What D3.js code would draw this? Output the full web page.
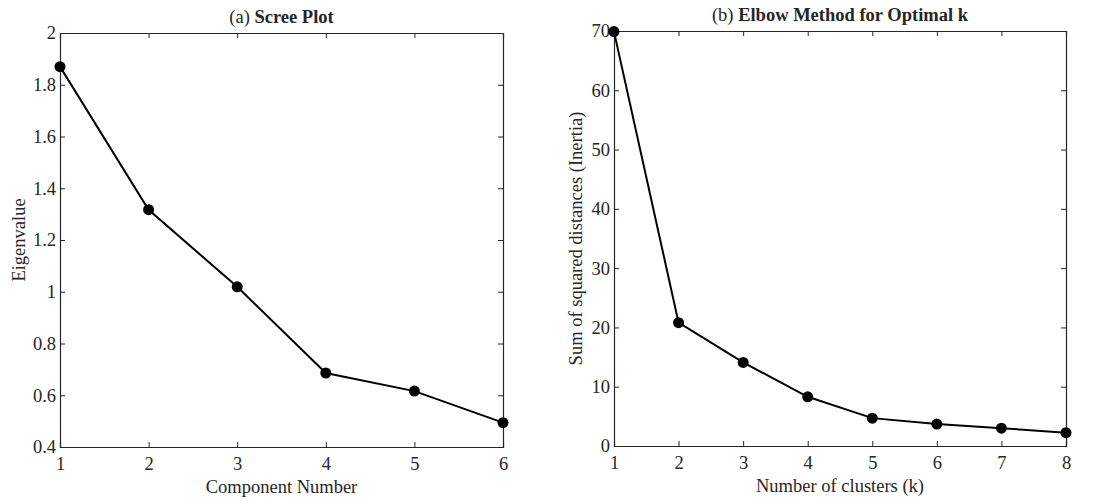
<!DOCTYPE html>
<html><head><meta charset="utf-8">
<script src="https://cdn.jsdelivr.net/npm/d3@7"></script>
<style>body{margin:0;background:#fff}svg{display:block}text{font-family:"Liberation Serif","Times New Roman",serif;fill:#262626}</style>
</head><body><svg id="c" width="1098" height="504"></svg>
<script>
const screeX = [1,2,3,4,5,6];
const screeY = [1.87,1.317,1.019,0.686,0.616,0.494];
const screeYTicks = [0.4,0.6,0.8,1,1.2,1.4,1.6,1.8,2];
const elbowX = [1,2,3,4,5,6,7,8];
const elbowY = [69.9,20.8,14.1,8.3,4.7,3.7,3.0,2.25];
const elbowYTicks = [0,10,20,30,40,50,60,70];

const svg = d3.select("#c");

function panel(o){
  const g = svg.append("g");
  const x = d3.scaleLinear().domain(o.xd).range([o.l,o.r]);
  const y = d3.scaleLinear().domain(o.yd).range([o.b,o.t]);
  const tl = 5;
  const fmt = d => String(d);
  g.append("g").attr("transform",`translate(0,${o.b})`)
    .call(d3.axisBottom(x).tickValues(o.xTicks).tickSize(-tl).tickPadding(10).tickFormat(fmt));
  g.append("g").attr("transform",`translate(0,${o.t})`)
    .call(d3.axisTop(x).tickValues(o.xTicks).tickSize(-tl).tickFormat(""));
  g.append("g").attr("transform",`translate(${o.l},0)`)
    .call(d3.axisLeft(y).tickValues(o.yTicks).tickSize(-tl).tickPadding(4).tickFormat(fmt));
  g.append("g").attr("transform",`translate(${o.r},0)`)
    .call(d3.axisRight(y).tickValues(o.yTicks).tickSize(-tl).tickFormat(""));
  g.selectAll(".domain").attr("stroke","#262626").attr("stroke-width",1.2);
  g.selectAll(".tick line").attr("stroke","#262626").attr("stroke-width",1);
  g.selectAll(".tick text").style("font-size","18.5px").attr("fill","#262626");
  const pts = o.xs.map((v,i)=>[v,o.ys[i]]);
  g.append("path").datum(pts).attr("fill","none").attr("stroke","#000").attr("stroke-width",2)
    .attr("d", d3.line().x(d=>x(d[0])).y(d=>y(d[1])));
  g.selectAll("circle.m").data(pts).enter().append("circle")
    .attr("cx",d=>x(d[0])).attr("cy",d=>y(d[1])).attr("r",5.5).attr("fill","#000");
  const tt = g.append("text").attr("x",(o.l+o.r)/2).attr("y",o.t-10).attr("text-anchor","middle").style("font-size","18.5px");
  tt.append("tspan").text(o.titleA+" ");
  tt.append("tspan").attr("font-weight","bold").text(o.titleB);
  g.append("text").attr("x",(o.l+o.r)/2).attr("y",o.b+46).attr("text-anchor","middle").style("font-size","18.5px").text(o.xlab);
  g.append("text").attr("transform",`translate(${o.ylx},${(o.t+o.b)/2}) rotate(-90)`).attr("text-anchor","middle").style("font-size","18.5px").text(o.ylab);
}

panel({l:60,r:503,t:33,b:447,xd:[1,6],yd:[0.4,2],xs:screeX,ys:screeY,xTicks:screeX,yTicks:screeYTicks,
  titleA:"(a)",titleB:"Scree Plot",xlab:"Component Number",ylab:"Eigenvalue",ylx:25});
panel({l:614,r:1066,t:31,b:446,xd:[1,8],yd:[0,70],xs:elbowX,ys:elbowY,xTicks:elbowX,yTicks:elbowYTicks,
  titleA:"(b)",titleB:"Elbow Method for Optimal k",xlab:"Number of clusters (k)",ylab:"Sum of squared distances (Inertia)",ylx:582});
</script></body></html>
